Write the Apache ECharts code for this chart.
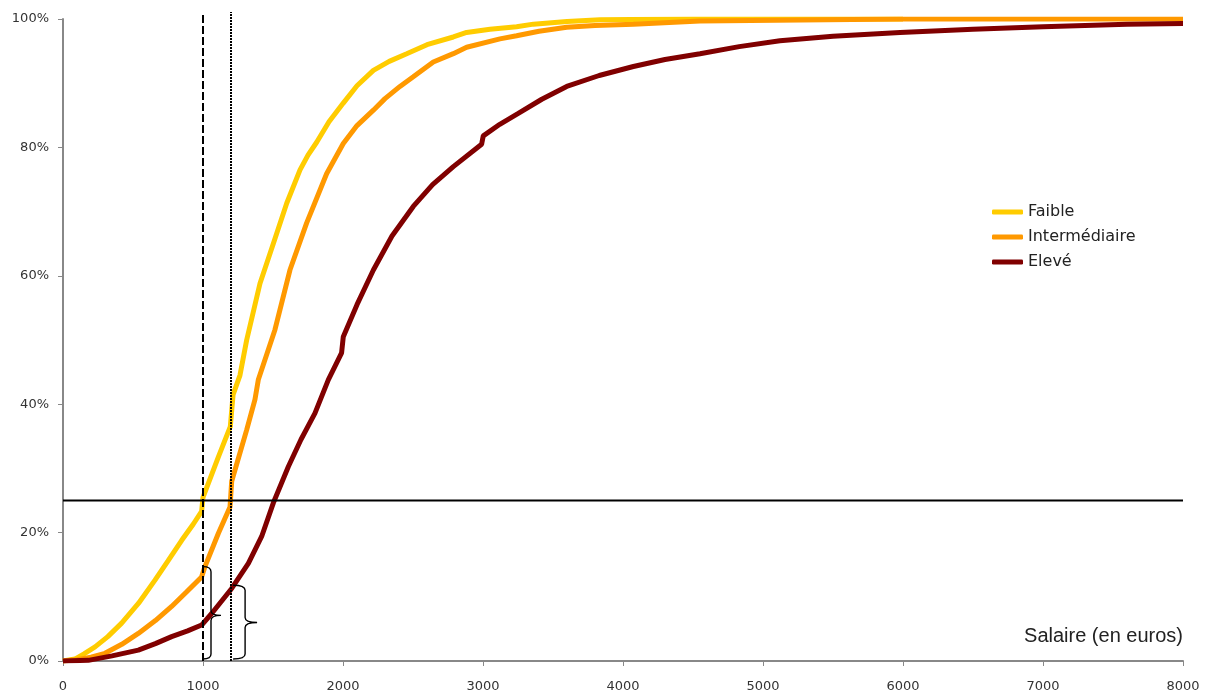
<!DOCTYPE html>
<html>
<head>
<meta charset="utf-8">
<script src="https://cdn.jsdelivr.net/npm/echarts@6/dist/echarts.min.js"></script>
<style>
html,body{margin:0;padding:0;background:#fff;}
#chart{width:1208px;height:695px;}
</style>
</head>
<body>
<div id="chart"></div>
<script>
// ---- Data ----
const seriesNames = ['Faible', 'Intermédiaire', 'Elevé'];
const xTicks = [0, 1000, 2000, 3000, 4000, 5000, 6000, 7000, 8000];
const yTicks = [0, 20, 40, 60, 80, 100];

// cumulative share (%) by salary (euros)
const faible = [
  [0,0],[85,0.3],[150,1.1],[229,2.2],[320,3.8],[419,5.9],[540,9],[657,12.6],[750,15.6],
  [848,18.8],[930,21.3],[990,23.3],[1000,25.5],[1110,31.8],[1195,36.5],[1215,41.5],
  [1264,44.5],[1312,50],[1407,58.8],[1502,65],[1598,71.3],[1693,76.5],[1750,78.8],
  [1812,80.8],[1900,84],[2002,86.9],[2100,89.6],[2217,92],[2330,93.4],[2455,94.6],
  [2600,96],[2788,97.2],[2883,97.9],[3050,98.4],[3240,98.8],[3360,99.2],[3600,99.6],
  [3836,99.9],[4500,100],[6000,100]
];
const intermediaire = [
  [0,0],[100,0.2],[200,0.6],[300,1.2],[420,2.6],[538,4.3],[660,6.3],[776,8.5],[880,10.7],
  [990,13.1],[1014,14.7],[1110,19.9],[1193,24],[1205,28],[1312,36],[1371,40.7],[1395,43.8],
  [1514,51.6],[1621,60.9],[1740,68.2],[1883,75.9],[2002,80.6],[2100,83.4],[2217,85.8],
  [2300,87.6],[2407,89.5],[2502,91],[2645,93.3],[2788,94.6],[2883,95.6],[3121,96.9],
  [3240,97.4],[3400,98.1],[3598,98.7],[3800,99],[4074,99.2],[4550,99.7],[6000,100],[8000,100]
];
const eleve = [
  [0,0],[181,0.1],[350,0.8],[538,1.7],[660,2.7],[776,3.8],[890,4.7],[990,5.6],[1062,7.4],
  [1205,11.3],[1324,15.2],[1419,19.4],[1502,24.6],[1610,30.3],[1700,34.5],[1800,38.6],
  [1895,43.8],[1990,48],[2002,50.5],[2100,55.5],[2217,60.9],[2350,66.2],[2502,70.8],
  [2640,74.2],[2788,77],[2990,80.5],[3002,81.8],[3120,83.6],[3252,85.3],[3420,87.5],
  [3598,89.5],[3830,91.2],[4074,92.6],[4300,93.7],[4550,94.6],[4830,95.7],[5121,96.6],
  [5500,97.3],[5979,97.9],[6500,98.4],[7000,98.8],[7600,99.2],[8000,99.3]
];

// reference lines
const quartileLevel = [25];
const refSalaries = [1000, 1200];

// braces (annotation): base salary, low %, high %, tip %
const braceBase = [1000, 1215];
const braceLow = [0.3, 0.3];
const braceHigh = [14.7, 11.8];
const braceTipLevel = [7.1, 6.0];

// ---- Chart ----
const chart = echarts.init(document.getElementById('chart'), null, {renderer: 'canvas'});
const FONT = 'DejaVu Sans';
const braceBodyPx = [8, 12];
const braceTipPx = [18, 24];

function bracePath(x0, yb, yt, xm, xt, ytip) {
  const r = 5;
  return 'M' + x0 + ' ' + yb +
    ' Q' + xm + ' ' + yb + ' ' + xm + ' ' + (yb - r) +
    ' L' + xm + ' ' + (ytip + r) +
    ' Q' + xm + ' ' + ytip + ' ' + xt + ' ' + ytip +
    ' Q' + xm + ' ' + ytip + ' ' + xm + ' ' + (ytip - r) +
    ' L' + xm + ' ' + (yt + r) +
    ' Q' + xm + ' ' + yt + ' ' + x0 + ' ' + yt;
}

const option = {
  animation: false,
  backgroundColor: '#fff',
  grid: {left: 63, right: 25, top: 19, bottom: 34, containLabel: false},
  legend: {
    data: seriesNames,
    orient: 'vertical',
    left: 987,
    top: 199,
    itemWidth: 31,
    itemHeight: 5,
    itemGap: 9,
    icon: 'roundRect',
    textStyle: {fontFamily: FONT, fontSize: 16, color: '#222'}
  },
  xAxis: {
    type: 'value',
    min: xTicks[0],
    max: xTicks[xTicks.length - 1],
    interval: 1000,
    name: 'Salaire (en euros)',
    nameLocation: 'end',
    nameGap: 0,
    nameTextStyle: {fontFamily: 'Liberation Sans', fontSize: 20, color: '#222', align: 'right', verticalAlign: 'bottom', padding: [0, 0, 15, 0]},
    axisLine: {lineStyle: {color: '#888', width: 2}},
    axisTick: {show: true, length: 5, lineStyle: {color: '#888', width: 1}},
    axisLabel: {fontFamily: FONT, fontSize: 13, color: '#333', margin: 19, formatter: function (v) { return String(v); }},
    splitLine: {show: false}
  },
  yAxis: {
    type: 'value',
    min: yTicks[0],
    max: yTicks[yTicks.length - 1],
    interval: 20,
    axisLine: {show: true, lineStyle: {color: '#888', width: 2}},
    axisTick: {show: true, length: 5, lineStyle: {color: '#888', width: 1}},
    axisLabel: {fontFamily: FONT, fontSize: 13, color: '#333', margin: 14, formatter: '{value}%'},
    splitLine: {show: false}
  },
  series: [
    {name: 'Faible', type: 'line', data: faible, showSymbol: false, symbol: 'none',
     color: '#FFCC00', lineStyle: {width: 5, color: '#FFCC00'}, z: 3},
    {name: 'Intermédiaire', type: 'line', data: intermediaire, showSymbol: false, symbol: 'none',
     color: '#FF9900', lineStyle: {width: 5, color: '#FF9900'}, z: 4},
    {name: 'Elevé', type: 'line', data: eleve, showSymbol: false, symbol: 'none',
     color: '#800000', lineStyle: {width: 5, color: '#800000'}, z: 5},
    {name: 'q25', type: 'line', data: [[xTicks[0], quartileLevel[0]], [xTicks[xTicks.length - 1], quartileLevel[0]]],
     symbol: 'none', lineStyle: {width: 2, color: '#000'}, z: 6, silent: true},
    {name: 'v1000', type: 'line', clip: false, data: [[refSalaries[0], 0], [refSalaries[0], 101.1]],
     symbol: 'none', lineStyle: {width: 2, color: '#000', type: [8, 3]}, z: 6, silent: true},
    {name: 'v1200', type: 'line', clip: false, data: [[refSalaries[1], 0], [refSalaries[1], 101.1]],
     symbol: 'none', lineStyle: {width: 2, color: '#000', type: [2, 1]}, z: 6, silent: true},
    {
      name: 'braces', type: 'custom', clip: false, z: 7, silent: true,
      data: braceBase.map((b, i) => [b, braceLow[i], braceHigh[i], braceTipLevel[i]]),
      renderItem: function (params, api) {
        const i = params.dataIndex;
        const pLow = api.coord([api.value(0), api.value(1)]);
        const pHigh = api.coord([api.value(0), api.value(2)]);
        const pTip = api.coord([api.value(0), api.value(3)]);
        const x0 = pLow[0];
        return {
          type: 'path',
          shape: {pathData: bracePath(x0, pLow[1], pHigh[1], x0 + braceBodyPx[i], x0 + braceTipPx[i], pTip[1])},
          style: {stroke: '#000', fill: null, lineWidth: 1.4}
        };
      }
    }
  ]
};
chart.setOption(option);
</script>
</body>
</html>
